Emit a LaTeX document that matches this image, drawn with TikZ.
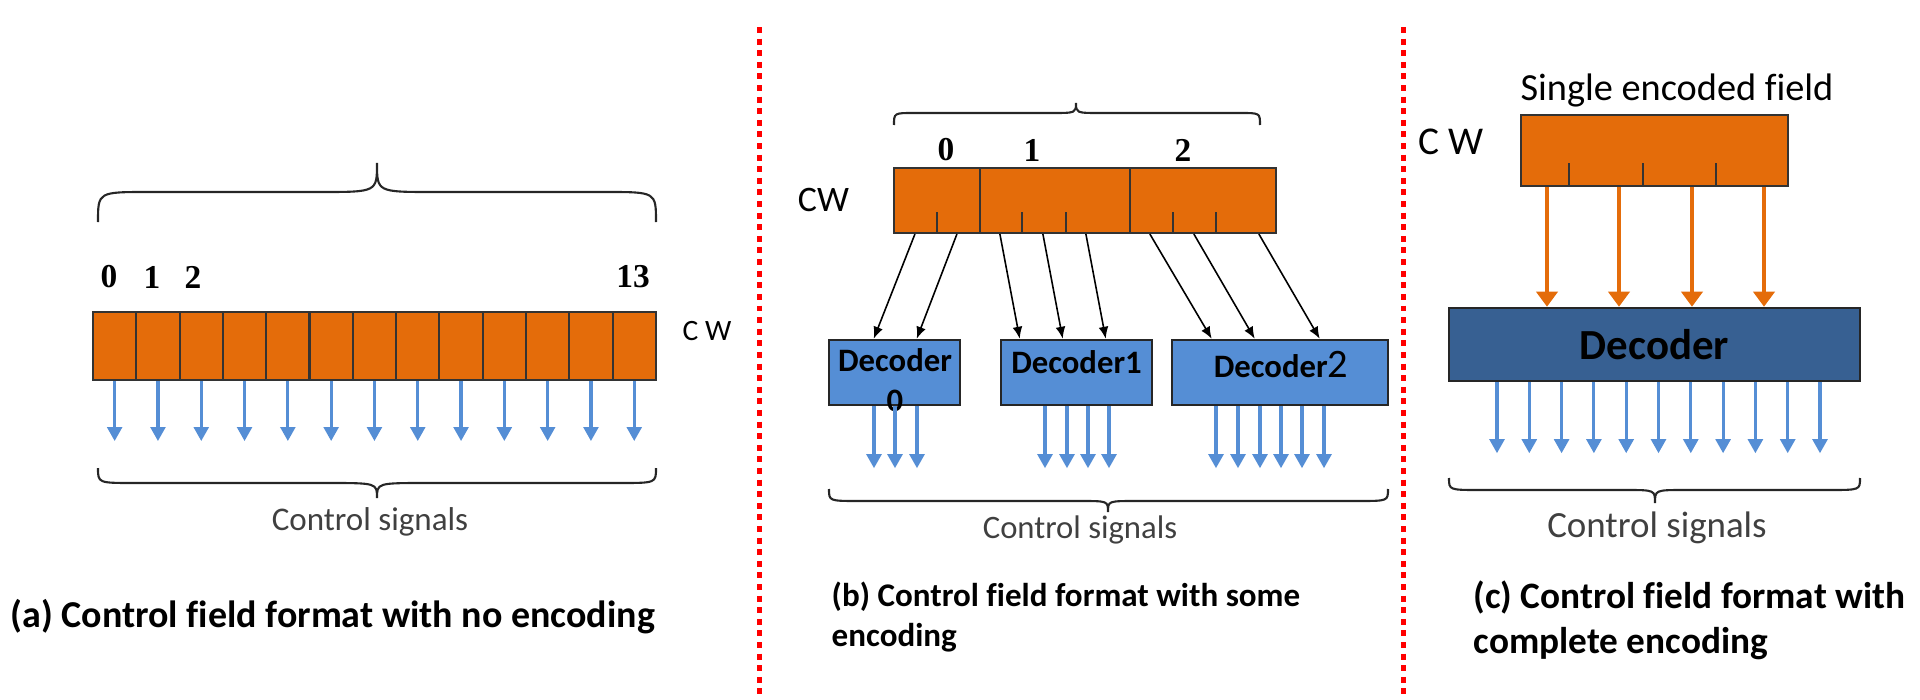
\documentclass[tikz,border=0pt]{standalone}
\usepackage{fontspec}
\setmainfont{Carlito}[Ligatures=NoCommon]
\newfontfamily\tms{Liberation Serif}
\usetikzlibrary{arrows.meta,calc}
\definecolor{org}{RGB}{228,108,10}
\definecolor{lblue}{RGB}{85,142,213}
\definecolor{dblue}{RGB}{55,96,146}
\definecolor{txtgray}{RGB}{64,64,64}
% x1, x2, xtip, yend, ybar, ytip, rEnd, rTip
\newcommand{\cbrace}[8]{%
 \pgfmathsetmacro\brA{#1+#7}\pgfmathsetmacro\brB{#3-#8}\pgfmathsetmacro\brC{#3+#8}\pgfmathsetmacro\brD{#2-#7}%
 \draw[brc] (#1,#4) .. controls (#1,#5) and (#1,#5) .. (\brA,#5) -- (\brB,#5) .. controls (#3,#5) and (#3,#5) .. (#3,#6) .. controls (#3,#5) and (#3,#5) .. (\brC,#5) -- (\brD,#5) .. controls (#2,#5) and (#2,#5) .. (#2,#4);}
\begin{document}
\begin{tikzpicture}[x=0.01cm,y=-0.01cm,
 cell/.style={draw=black!80, line width=0.6pt, fill=org, inner sep=0, rectangle},
 dec/.style={draw=black!85, line width=0.7pt, fill=lblue, inner sep=0, rectangle},
 barrow/.style={draw=lblue, line width=0.9pt, -{Triangle[length=4pt,width=4.2pt]}},
 karrow/.style={draw=black, line width=0.45pt, -{Latex[length=3.4pt,width=2.8pt]}},
 oarrow/.style={draw=org, line width=1.3pt, -{Triangle[length=4.3pt,width=6pt]}},
 brc/.style={draw=black!85, line width=0.6pt},
 tickln/.style={draw=black!80, line width=0.7pt},
 sig/.style={text=txtgray, inner sep=0},
 captxt/.style={inner sep=0, anchor=west, align=left},
 num/.style={font=\tms\bfseries\fontsize{9.5}{11}\selectfont, inner sep=0},
 dtext/.style={font=\bfseries\fontsize{9.3}{11.4}\selectfont, inner sep=0},
 reddots/.style={draw=red, line width=1.42pt, dash pattern=on 1.7pt off 1.6pt}
]
\useasboundingbox (0,0) rectangle (1920,700);

% separators
\draw[reddots] (759,27) -- (759,700);
\draw[reddots] (1403,27) -- (1403,700);

% ---------------- panel (a)
\cbrace{98}{656}{377}{222}{192}{163}{50}{56}
\node[num] (la0) at (109,277) {0};
\node[num] (la1) at (152,277) {1};
\node[num] (la2) at (193,277) {2};
\node[num] (la13) at (633,277) {13};
\foreach \i in {0,...,12}{
 \pgfmathsetmacro\cx{114.65+43.3*\i}
 \node[cell, minimum width=0.433cm, minimum height=0.68cm] (a\i) at (\cx,346) {};
}
\foreach \i in {0,...,12}{
 \draw[barrow] (a\i.south) -- ++(0,60);
}
\node[inner sep=0, font=\fontsize{8.4}{10}\selectfont] (cwa) at (707,331) {C W};
\cbrace{98}{656}{377}{468}{483}{498}{36}{50}
\node[sig, font=\fontsize{9.4}{11}\selectfont] (csa) at (370,522) {Control signals};
\node[captxt, font=\bfseries\fontsize{10.8}{13}\selectfont] (capa) at (10,617) {(a) Control field format with no encoding};

% ---------------- panel (b)
\cbrace{894}{1260}{1076}{125}{113}{103}{20}{25}
\node[num] (lb0) at (946,150) {0};
\node[num] (lb1) at (1032,150) {1};
\node[num] (lb2) at (1183,150) {2};
\node[inner sep=0, font=\fontsize{10.2}{12}\selectfont] (cwb) at (823.5,200) {CW};
\node[cell, minimum width=0.86cm, minimum height=0.65cm] (f0) at (937,200.5) {};
\node[cell, minimum width=1.50cm, minimum height=0.65cm] (f1) at (1055,200.5) {};
\node[cell, minimum width=1.46cm, minimum height=0.65cm] (f2) at (1203,200.5) {};
\foreach \x in {937,1022,1066,1173,1216}{
 \draw[tickln] (\x,212) -- (\x,233);
}
\node[dec, minimum width=1.31cm, minimum height=0.65cm] (d0) at (894.5,372.5) {};
\node[dec, minimum width=1.51cm, minimum height=0.65cm] (d1) at (1076.5,372.5) {};
\node[dec, minimum width=2.16cm, minimum height=0.65cm] (d2) at (1280,372.5) {};
\node[dtext, align=center] (t0) at (895,380.5) {Decoder\\0};
\node[dtext] (t1) at (1076.5,362) {Decoder1};
\node[dtext] (t2) at (1281,364) {Decoder{\mdseries\fontsize{11.5}{12}\selectfont 2}};
% black arrows
\draw[karrow] ($(f0.south west)+(22,0)$) -- ($(d0.north west)+(46,0)$);
\draw[karrow] ($(f0.south west)+(64,0)$) -- ($(d0.north west)+(89,0)$);
\draw[karrow] ($(f1.south west)+(21,0)$) -- ($(d1.north west)+(20,0)$);
\draw[karrow] ($(f1.south west)+(64,0)$) -- ($(d1.north west)+(63,0)$);
\draw[karrow] ($(f1.south west)+(107,0)$) -- ($(d1.north west)+(106,0)$);
\draw[karrow] ($(f2.south west)+(21,0)$) -- ($(d2.north west)+(41,0)$);
\draw[karrow] ($(f2.south west)+(65,0)$) -- ($(d2.north west)+(84,0)$);
\draw[karrow] ($(f2.south west)+(130,0)$) -- ($(d2.north west)+(149,0)$);
% blue outputs
\foreach \x in {874,895,917}{ \draw[barrow] (\x,0 |- d0.south) -- ++(0,62); }
\foreach \x in {1045,1067,1088,1109}{ \draw[barrow] (\x,0 |- d1.south) -- ++(0,62); }
\foreach \x in {1216,1238,1260,1281,1302,1324}{ \draw[barrow] (\x,0 |- d2.south) -- ++(0,62); }
\cbrace{829}{1388}{1108}{489}{501}{512}{30}{28}
\node[sig, font=\fontsize{9.3}{11}\selectfont] (csb) at (1080,530) {Control signals};
\node[captxt, font=\bfseries\fontsize{9.4}{11.4}\selectfont] (capb) at (831,617) {(b) Control field format with some\\encoding};

% ---------------- panel (c)
\node[inner sep=0, font=\fontsize{10.9}{13}\selectfont] (sef) at (1677,90) {Single encoded field};
\node[inner sep=0, font=\fontsize{11.2}{13}\selectfont] (cwc) at (1451,142) {C W};
\node[cell, minimum width=2.67cm, minimum height=0.71cm] (cw) at (1654.5,150.5) {};
\foreach \x in {1569,1643,1716}{
 \draw[tickln] (\x,163) -- (\x,186);
}
\node[draw=black!85, line width=0.7pt, fill=dblue, minimum width=4.11cm, minimum height=0.73cm, inner sep=0, font=\bfseries\fontsize{12.2}{14}\selectfont] (dc) at (1654.5,344.5) {Decoder};
\foreach \x in {1547,1619,1692,1764}{
 \draw[oarrow] (\x,0 |- cw.south) -- (\x,0 |- dc.north);
}
\foreach \i in {0,...,10}{
 \pgfmathsetmacro\cx{1497+32.3*\i}
 \draw[barrow] (\cx,0 |- dc.south) -- ++(0,71);
}
\cbrace{1449}{1860}{1655}{478}{490}{503}{31}{30}
\node[sig, font=\fontsize{10.5}{12}\selectfont] (csc) at (1657,528) {Control signals};
\node[captxt, font=\bfseries\fontsize{10.6}{12.8}\selectfont] (capc) at (1473,620.5) {(c) Control field format with\\complete encoding};
\end{tikzpicture}
\end{document}
